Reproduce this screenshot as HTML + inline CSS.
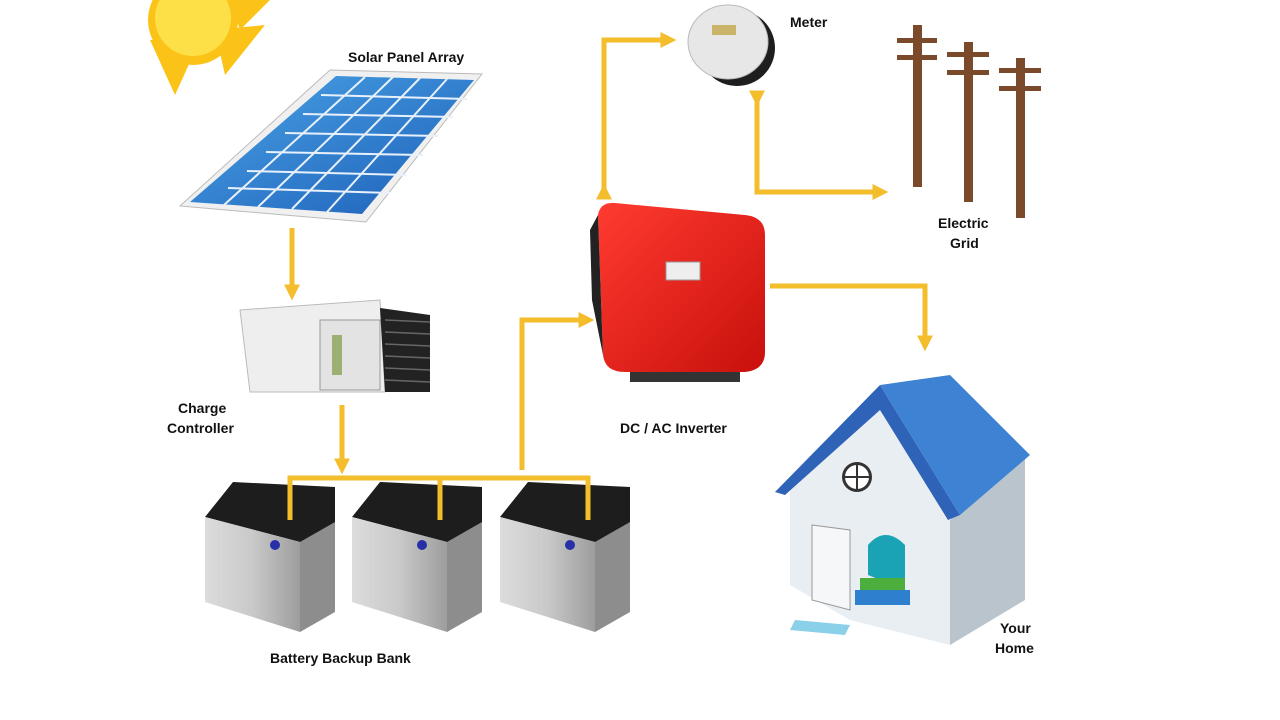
<!DOCTYPE html>
<html><head><meta charset="utf-8"><style>
html,body{margin:0;padding:0;background:#fff;width:1280px;height:720px;overflow:hidden}
text{font-family:"Liberation Sans",Arial,sans-serif;font-weight:bold;font-size:14px;fill:#111}
</style></head><body>
<svg width="1280" height="720" viewBox="0 0 1280 720" xmlns="http://www.w3.org/2000/svg">
<defs>
<marker id="a" viewBox="0 0 10 10" refX="6" refY="5" markerWidth="3.2" markerHeight="3.2" orient="auto"><path d="M0,0 L10,5 L0,10 z" fill="#f3bd2b"/></marker>
<linearGradient id="pn" x1="0" y1="0" x2="1" y2="1"><stop offset="0" stop-color="#4aa3e6"/><stop offset="1" stop-color="#1d5fb8"/></linearGradient>
<linearGradient id="rd" x1="0" y1="0" x2="1" y2="1"><stop offset="0" stop-color="#ff3b30"/><stop offset="1" stop-color="#c8100c"/></linearGradient>
<linearGradient id="bt" x1="0" y1="0" x2="1" y2="0"><stop offset="0" stop-color="#dcdcdc"/><stop offset="0.5" stop-color="#c9c9c9"/><stop offset="1" stop-color="#9d9d9d"/></linearGradient>
</defs>
<!-- sun -->
<g fill="#fbc318">
<polygon points="150,40 175,95 200,40"/><polygon points="215,30 265,25 225,75"/><polygon points="230,0 270,0 240,30"/>
<circle cx="193" cy="20" r="45"/>
</g>
<circle cx="193" cy="18" r="38" fill="#fde047"/>
<!-- solar panel -->
<polygon points="330,70 482,74 366,222 180,206" fill="#f0f0f0" stroke="#bbb"/>
<polygon points="336,76 474,80 362,214 190,202" fill="url(#pn)"/>
<g stroke="#e8f1fb" stroke-width="2">
<line x1="365" y1="77" x2="224" y2="205"/><line x1="393" y1="77" x2="258" y2="207"/><line x1="420" y1="78" x2="292" y2="209"/><line x1="447" y1="79" x2="327" y2="212"/>
<line x1="321" y1="95" x2="467" y2="99"/><line x1="303" y1="114" x2="453" y2="117"/><line x1="285" y1="133" x2="438" y2="136"/><line x1="266" y1="152" x2="423" y2="155"/><line x1="247" y1="171" x2="406" y2="175"/><line x1="228" y1="188" x2="390" y2="193"/>
</g>
<text x="348" y="62">Solar Panel Array</text>
<!-- arrows -->
<g stroke="#f3bd2b" stroke-width="5" fill="none">
<path d="M292,228 V294" marker-end="url(#a)"/>
<path d="M342,405 V468" marker-end="url(#a)"/>
<path d="M290,518 V478 H588 V518"/><path d="M440,478 V518"/>
<path d="M522,470 V320 H588" marker-end="url(#a)"/>
<path d="M604,190 V40 H670" marker-end="url(#a)" marker-start="url(#a)"/>
<path d="M757,100 V192 H882" marker-start="url(#a)" marker-end="url(#a)"/>
<path d="M770,286 H925 V345" marker-end="url(#a)"/>
</g>
<!-- controller -->
<polygon points="240,310 380,300 385,392 250,392" fill="#eeeeee" stroke="#bbb"/>
<rect x="320" y="320" width="60" height="70" fill="#e3e3e3" stroke="#999"/>
<rect x="332" y="335" width="10" height="40" fill="#9bb071"/>
<g fill="#222"><polygon points="380,308 430,315 430,392 385,392"/></g>
<g stroke="#666" stroke-width="1.5"><line x1="385" y1="320" x2="430" y2="322"/><line x1="385" y1="332" x2="430" y2="334"/><line x1="385" y1="344" x2="430" y2="346"/><line x1="385" y1="356" x2="430" y2="358"/><line x1="385" y1="368" x2="430" y2="370"/><line x1="385" y1="380" x2="430" y2="382"/></g>
<text x="178" y="413">Charge</text><text x="167" y="433">Controller</text>
<!-- batteries -->
<g>
<g transform="translate(205,482)"><polygon points="0,35 28,0 130,5 130,60 95,60 0,35" fill="#1d1d1d"/><polygon points="0,35 95,60 95,150 0,120" fill="url(#bt)"/><polygon points="95,60 130,40 130,130 95,150" fill="#8d8d8d"/><circle cx="70" cy="63" r="5" fill="#2830a8"/></g>
<g transform="translate(352,482)"><polygon points="0,35 28,0 130,5 130,60 95,60 0,35" fill="#1d1d1d"/><polygon points="0,35 95,60 95,150 0,120" fill="url(#bt)"/><polygon points="95,60 130,40 130,130 95,150" fill="#8d8d8d"/><circle cx="70" cy="63" r="5" fill="#2830a8"/></g>
<g transform="translate(500,482)"><polygon points="0,35 28,0 130,5 130,60 95,60 0,35" fill="#1d1d1d"/><polygon points="0,35 95,60 95,150 0,120" fill="url(#bt)"/><polygon points="95,60 130,40 130,130 95,150" fill="#8d8d8d"/><circle cx="70" cy="63" r="5" fill="#2830a8"/></g>
</g>
<g stroke="#f3bd2b" stroke-width="5"><path d="M290,478 V520 M440,478 V520 M588,478 V520"/></g>
<text x="270" y="663">Battery Backup Bank</text>
<!-- inverter -->
<path d="M598,215 Q600,202 615,203 L745,215 Q765,217 765,235 L765,352 Q765,370 745,372 L625,372 Q605,372 603,355 Z" fill="url(#rd)"/>
<path d="M598,215 L603,355 L592,300 L590,230 Z" fill="#222"/>
<rect x="666" y="262" width="34" height="18" fill="#eee" stroke="#999"/>
<rect x="630" y="372" width="110" height="10" fill="#333"/>
<text x="620" y="433">DC / AC Inverter</text>
<!-- meter -->
<ellipse cx="737" cy="48" rx="38" ry="38" fill="#1e1e1e"/>
<ellipse cx="728" cy="42" rx="40" ry="37" fill="#e7e7e7" stroke="#bbb"/>
<rect x="712" y="25" width="24" height="10" fill="#c9b46a"/>
<text x="790" y="27" font-size="13">Meter</text>
<!-- poles -->
<g fill="#7a4a2a">
<rect x="913" y="25" width="9" height="162"/><rect x="897" y="38" width="40" height="5"/><rect x="897" y="55" width="40" height="5"/>
<rect x="964" y="42" width="9" height="160"/><rect x="947" y="52" width="42" height="5"/><rect x="947" y="70" width="42" height="5"/>
<rect x="1016" y="58" width="9" height="160"/><rect x="999" y="68" width="42" height="5"/><rect x="999" y="86" width="42" height="5"/>
</g>
<text x="938" y="228">Electric</text><text x="950" y="248">Grid</text>
<!-- house -->
<polygon points="790,490 880,405 950,520 950,645 850,620 790,585" fill="#e9eef2"/>
<polygon points="950,520 1025,455 1025,600 950,645" fill="#b9c4cc"/>
<polygon points="775,492 880,385 960,515 948,520 880,410 785,495" fill="#2f63b8"/>
<polygon points="880,385 950,375 1030,455 960,515" fill="#3e82d3"/>
<circle cx="857" cy="477" r="15" fill="#333"/><circle cx="857" cy="477" r="12" fill="#fff"/>
<path d="M845,477 H869 M857,465 V489" stroke="#333" stroke-width="2"/>
<polygon points="812,525 850,530 850,610 812,600" fill="#f5f7f9" stroke="#999"/>
<path d="M868,575 V545 Q885,525 905,545 V590 Z" fill="#1aa2b5"/>
<rect x="855" y="590" width="55" height="15" fill="#2f7fcf"/>
<rect x="860" y="578" width="45" height="12" fill="#4cae3c"/>
<polygon points="795,620 850,625 845,635 790,630" fill="#8ad0e8"/>
<text x="1000" y="633">Your</text><text x="995" y="653">Home</text>
</svg>
</body></html>
